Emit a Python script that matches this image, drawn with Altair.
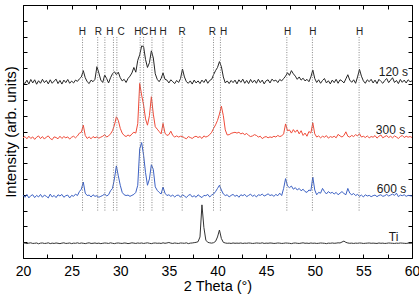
import altair as alt
import numpy as np
import pandas as pd

# 2-theta sampling grid (degrees)
theta = np.round(20.0 + 0.2 * np.arange(201), 1)

# Intensity above each pattern's own baseline, one value per grid step
counts_120 = [
    0, -12, 10, -15, 14, -8, 12, -16, 6, -10,
    15, -6, 8, -14, 12, -10, 4, 16, -12, 8,
    -15, 10, -6, 14, -10, 4, -8, 10, 2, 18,
    30, 70, 25, 0, -12, 10, 0, 15, 95, 55,
    10, -5, 42, 20, -8, 25, 50, 63, 45, 60,
    25, 5, 15, -5, 20, 35, 55, 90, 60, 135,
    170, 226, 222, 140, 90, 120, 195, 150, 50, 15,
    0, 20, 55, 15, 10, -8, 12, 0, -12, 8,
    -5, 20, 80, 30, 0, -10, 5, -15, 10, -8,
    5, -12, 10, -5, 15, -10, 8, 15, 45, 70,
    90, 127, 95, 30, -8, 5, -12, 8, -6, 10,
    -14, 12, -4, 16, -10, 8, -12, 14, -6, 10,
    -10, 15, -6, 10, -14, 6, 12, -8, 16, 4,
    10, -6, 14, 5, 20, 35, 57, 40, 70, 50,
    35, 15, 30, 10, 22, 5, 15, 0, 30, 74,
    20, -5, 12, -10, 8, 20, -8, 6, -14, 10,
    -6, 15, -10, 12, 5, -8, 18, 44, 10, -4,
    12, -10, 30, 78, 35, 5, -10, 12, 0, 15,
    -8, 10, -12, 15, 2, -10, 8, 20, -6, 10,
    25, -5, 8, -12, 14, -4, 10, -8, 12, 0,
    5,
]
counts_300 = [
    0, 8, -6, 10, -4, 6, -10, 4, 12, -5,
    8, -8, 5, 12, -4, -12, 6, 2, -6, 10,
    -4, 8, 0, 6, -8, 4, 10, 0, 12, 30,
    35, 80, 15, -4, 6, -6, 8, 0, 6, -2,
    4, 10, 20, 5, 12, 25, 45, 80, 133, 110,
    60, 30, 15, 8, 18, 10, 25, 35, 30, 90,
    344, 270, 207, 120, 80, 140, 260, 150, 70, 55,
    40, 25, 91, 30, 15, 20, 42, 15, 5, 12,
    5, 10, 8, 0, -6, 8, 2, -4, 6, 10,
    2, 8, -4, 12, 5, 10, 20, 35, 60, 82,
    110, 150, 200, 140, 50, 18, 20, 28, 32, 35,
    30, 35, 25, 30, 20, 28, 15, 8, 12, 20,
    15, 5, 10, -5, 4, 8, 0, 6, 2, 10,
    5, 15, 8, 12, 25, 88, 45, 50, 30, 52,
    35, 50, 25, 45, 15, 30, 10, 40, 30, 95,
    25, 5, 12, 0, 10, 4, 14, -2, 8, 3,
    10, 0, 22, 12, 5, 15, 38, 10, 5, 15,
    8, 20, 12, 26, 5, 10, 2, 12, 0, 8,
    4, 14, -2, 10, 18, 0, 8, 14, 2, 10,
    0, 12, 5, -4, 8, 15, 2, 10, 4, 8,
    2,
]
counts_600 = [
    8, -6, 12, -10, 4, 10, -8, 6, -4, 12,
    -6, 8, 0, -10, 14, -4, 6, -8, 10, 2,
    12, -6, 4, 8, -10, 6, 0, 14, 5, 30,
    45, 90, 20, 5, 8, -4, 10, 0, 4, -6,
    0, 6, 15, 2, 10, 35, 50, 110, 192, 130,
    70, 25, 10, 5, 8, 0, 6, 12, 25, 70,
    300, 340, 260, 150, 70, 110, 200, 170, 60, 38,
    25, 15, 59, 20, 5, 10, 0, 8, -4, 6,
    8, -6, 10, 2, -8, 6, 12, -4, 4, -6,
    10, 0, -8, 6, 4, 12, -4, 8, 15, 30,
    50, 70, 40, 15, 5, 10, -4, 6, 12, 0,
    8, -6, 10, 4, 12, -2, 6, 14, 0, 8,
    -4, 10, 6, 14, 2, 8, 16, 5, 10, 0,
    12, 4, 20, 5, 50, 112, 65, 55, 65, 45,
    55, 40, 50, 35, 45, 30, 25, 40, 35, 122,
    40, 10, 25, 20, 50, 30, 15, 30, 20, 25,
    15, 25, 10, 20, 30, 18, 10, 50, 20, 10,
    18, 5, 12, 0, 8, -4, 10, 2, 6, -2,
    4, 8, -2, 6, 10, 0, 4, 12, 2, 8,
    14, 6, 20, -2, 8, 4, 10, 0, 6, 4,
    2,
]
counts_ti = [
    0, 2, -2, 1, 3, -1, 0, 2, -3, 1,
    2, -1, 0, 3, -2, 1, -1, 2, 0, -2,
    1, 3, -1, 0, 2, -2, 1, 0, 3, -1,
    2, 0, -2, 1, 3, -1, 0, 2, -1, 1,
    -2, 0, 2, 1, -1, 3, 0, -2, 1, 2,
    0, -1, 2, 1, -2, 0, 3, 1, -1, 2,
    0, 2, -1, 1, 3, 0, -2, 1, 2, 0,
    1, -1, 3, 0, 2, 5, 1, -1, 2, 0,
    -1, 2, 1, 0, 3, -2, 1, 2, 4, 6,
    10, 40, 243, 100, 20, 6, 3, 1, 4, 12,
    40, 84, 30, 6, 2, 0, 1, -1, 2, 0,
    1, 0, 2, -1, 1, 0, 2, 1, -1, 0,
    2, 1, 0, 3, -1, 1, 0, 2, 1, -1,
    0, 2, 1, -1, 0, 2, 1, 0, -2, 1,
    2, 0, -1, 1, 3, 0, 1, -1, 2, 0,
    1, -1, 0, 2, 1, 0, -2, 1, 0, 2,
    0, 1, 3, 2, 8, 14, 6, 2, 0, 1,
    -1, 1, 0, 2, 1, -1, 0, 1, 2, 0,
    1, 0, -1, 2, 0, 1, -1, 0, 2, 1,
    0, -1, 1, 0, 2, 1, 0, -1, 1, 0,
    1,
]

series_names = ["120 s", "300 s", "600 s", "Ti"]
series_counts = [counts_120, counts_300, counts_600, counts_ti]
series_offsets = [1115, 760, 390, 93]          # vertical stacking of the patterns
series_colors = ["#262626", "#f04c3a", "#3d62c4", "#333333"]

# Series tags drawn at the right end of each pattern
tag_x = [59.6, 59.3, 59.4, 58.6]
tag_y = [1174, 812, 436, 135]

# Reflection markers: dotted guide positions and phase letters above them
guide_pos = [26.12, 27.68, 28.42, 29.3, 29.65, 32.05, 32.4, 33.26, 34.4,
             36.37, 39.59, 40.3, 47.13, 49.76, 54.56]
phase_pos = [26.1, 27.74, 28.94, 30.08, 31.8, 32.5, 33.36, 34.4, 36.37,
             39.48, 40.62, 47.2, 49.8, 54.6]
phase_txt = ["H", "R", "H", "C", "H", "C", "H", "H", "R", "R", "H", "H", "H", "H"]
guide_lo, guide_hi, phase_y = 300, 1400, 1430

x_ticks = [20 + 2.5 * k for k in range(17)]
y_ticks = [100 * k for k in range(17)]

frames = []
for name, cnt, off in zip(series_names, series_counts, series_offsets):
    frames.append(pd.DataFrame({"theta": theta,
                                "intensity": np.asarray(cnt) + off,
                                "series": name}))
patterns = pd.concat(frames, ignore_index=True)
guides = pd.DataFrame({"pos": guide_pos, "lo": guide_lo, "hi": guide_hi})
phases = pd.DataFrame({"pos": phase_pos, "y": phase_y, "txt": phase_txt})
tags = pd.DataFrame({"x": tag_x, "y": tag_y, "txt": series_names})

FONT = "Liberation Sans"
inward = {"expr": "-4"}
xscale = alt.Scale(domain=[20, 60], nice=False, zero=False)
yscale = alt.Scale(domain=[0, 1600], nice=False, zero=False)

lines = alt.Chart(patterns).mark_line(strokeWidth=1).encode(
    x=alt.X("theta:Q", scale=xscale, axis=alt.Axis(
        orient="bottom", values=x_ticks,
        labelExpr="datum.value % 5 === 0 ? datum.label : ''",
        labelFont=FONT, labelFontSize=14, labelColor="black",
        labelPadding=10, labelFlush=False, labelOverlap=False,
        title="2 Theta (°)", titleFont=FONT, titleFontSize=14.5,
        titleFontWeight="normal", titleColor="black", titlePadding=1,
        tickSize=inward, tickColor="black", domainColor="black", grid=False)),
    y=alt.Y("intensity:Q", scale=yscale, axis=alt.Axis(
        orient="left", values=y_ticks, labels=False,
        title="Intensity (arb. units)", titleFont=FONT, titleFontSize=15,
        titleFontWeight="normal", titleColor="black", titlePadding=4,
        tickSize=inward, tickColor="black", domainColor="black", grid=False)),
    color=alt.Color("series:N", scale=alt.Scale(domain=series_names, range=series_colors),
                    legend=None),
    detail="series:N",
)

guide_rules = alt.Chart(guides).mark_rule(
    color="#7a7a7a", strokeWidth=0.9, strokeDash=[1, 1.5]
).encode(
    x=alt.X("pos:Q", scale=xscale, axis=alt.Axis(
        orient="top", values=x_ticks, labels=False, title=None,
        tickSize=inward, tickColor="black", domainColor="black", grid=False)),
    y=alt.Y("lo:Q", scale=yscale, axis=alt.Axis(
        orient="right", values=y_ticks, labels=False, title=None,
        tickSize=inward, tickColor="black", domainColor="black", grid=False)),
    y2="hi:Q",
)

phase_text = alt.Chart(phases).mark_text(
    font=FONT, fontSize=10, color="#222222", baseline="middle", align="center"
).encode(
    x=alt.X("pos:Q", scale=xscale, axis=None),
    y=alt.Y("y:Q", scale=yscale, axis=None),
    text="txt:N",
)

tag_text = alt.Chart(tags).mark_text(
    font=FONT, fontSize=12, color="#1a1a1a", baseline="middle", align="right"
).encode(
    x=alt.X("x:Q", scale=xscale, axis=None),
    y=alt.Y("y:Q", scale=yscale, axis=None),
    text="txt:N",
)

chart = alt.layer(lines, guide_rules, phase_text, tag_text).resolve_axis(
    x="independent", y="independent"
).properties(
    width=389, height=253,
    autosize=alt.AutoSizeParams(type="none"),
    padding={"left": 23, "top": 5, "right": 7, "bottom": 36},
).configure_view(stroke="black", strokeWidth=1).configure(background="white")

chart.save("out.html", embed_options={"renderer": "svg", "actions": False})
